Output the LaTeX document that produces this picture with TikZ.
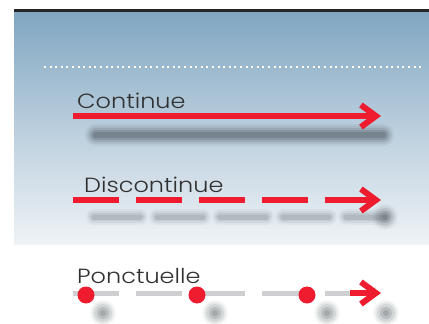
\documentclass[tikz,border=0pt]{standalone}
\usepackage{fontspec}
\setmainfont{Poppins}[UprightFont=* Light, FakeStretch=1.17]
\usetikzlibrary{arrows.meta}
\definecolor{redc}{HTML}{EE1C2E}
\definecolor{topc}{HTML}{80A6C1}
\definecolor{midc}{HTML}{BACEDD}
\definecolor{botc}{HTML}{EFF3F6}
\definecolor{txtc}{HTML}{303030}
\definecolor{shadc}{HTML}{4A525B}
\definecolor{greyc}{HTML}{CFCFD1}
\tikzset{
  lbl/.style={anchor=base west, inner sep=0pt, font=\fontsize{20.5}{24}\selectfont, text=txtc},
  redline/.style={draw=redc, line width=6pt},
  tipped/.style={-{Straight Barb[length=15pt,width=22pt]}},
  dashpat/.style={dash pattern=on 46pt off 17pt},
  reddot/.style={circle, fill=redc, minimum size=17pt, inner sep=0pt},
}
\begin{document}
\begin{tikzpicture}[x=1pt,y=-1pt]
\useasboundingbox (0,0) rectangle (429,324);
\fill[white] (0,0) rectangle (429,324);
% panel
\shade[top color=topc, bottom color=botc, middle color=midc] (14,11) rectangle (429,244);
\draw[line width=3pt, black!85] (14,10) -- (429,10);
\draw[white, line width=2pt, dash pattern=on 2pt off 3.6pt] (44,67) -- (422,67);
% shadows
\foreach \w/\o in {22/0.08,18/0.1,14/0.16,10/0.22,6/0.25}{
  \draw[shadc, opacity=\o, line width=\w pt, line cap=round] (96,135) -- (383,135);
}
\foreach \w/\o in {16/0.05,12/0.08,8/0.1,5/0.12}{
  \draw[shadc, opacity=\o, line width=\w pt, line cap=round, dashpat] (94,217) -- (385,217);
}
\foreach \r/\o in {13/0.05,11/0.08,9/0.12,6/0.18,3/0.2}{
  \fill[shadc, opacity=\o] (385,217) circle (\r pt);
  \foreach \x in {103,215,327,386}{
    \fill[shadc, opacity=\o] (\x,313) circle (\r pt);
  }
}
% labels
\node[lbl] (lc) at (77,108) {Continue};
\node[lbl] (ld) at (84,192) {Discontinue};
\node[lbl] (lp) at (77,283) {Ponctuelle};
% continue
\coordinate (c1) at (73,116);
\coordinate (c2) at (381,116);
\draw[redline, tipped] (c1) -- (c2);
% discontinue
\coordinate (d1) at (73,200);
\coordinate (d2) at (381,200);
\draw[redline, tipped, dashpat] (d1) -- (d2);
% ponctuelle
\coordinate (p1) at (73,293);
\coordinate (p2) at (365,293);
\coordinate (p3) at (350,293);
\coordinate (p4) at (381,293);
\draw[greyc, line width=5pt, dashpat] (p1) -- (p2);
\draw[redline, tipped] (p3) -- (p4);
\node[reddot] (q1) at (86,295) {};
\node[reddot] (q2) at (197,295) {};
\node[reddot] (q3) at (307,295) {};
\end{tikzpicture}
\end{document}
